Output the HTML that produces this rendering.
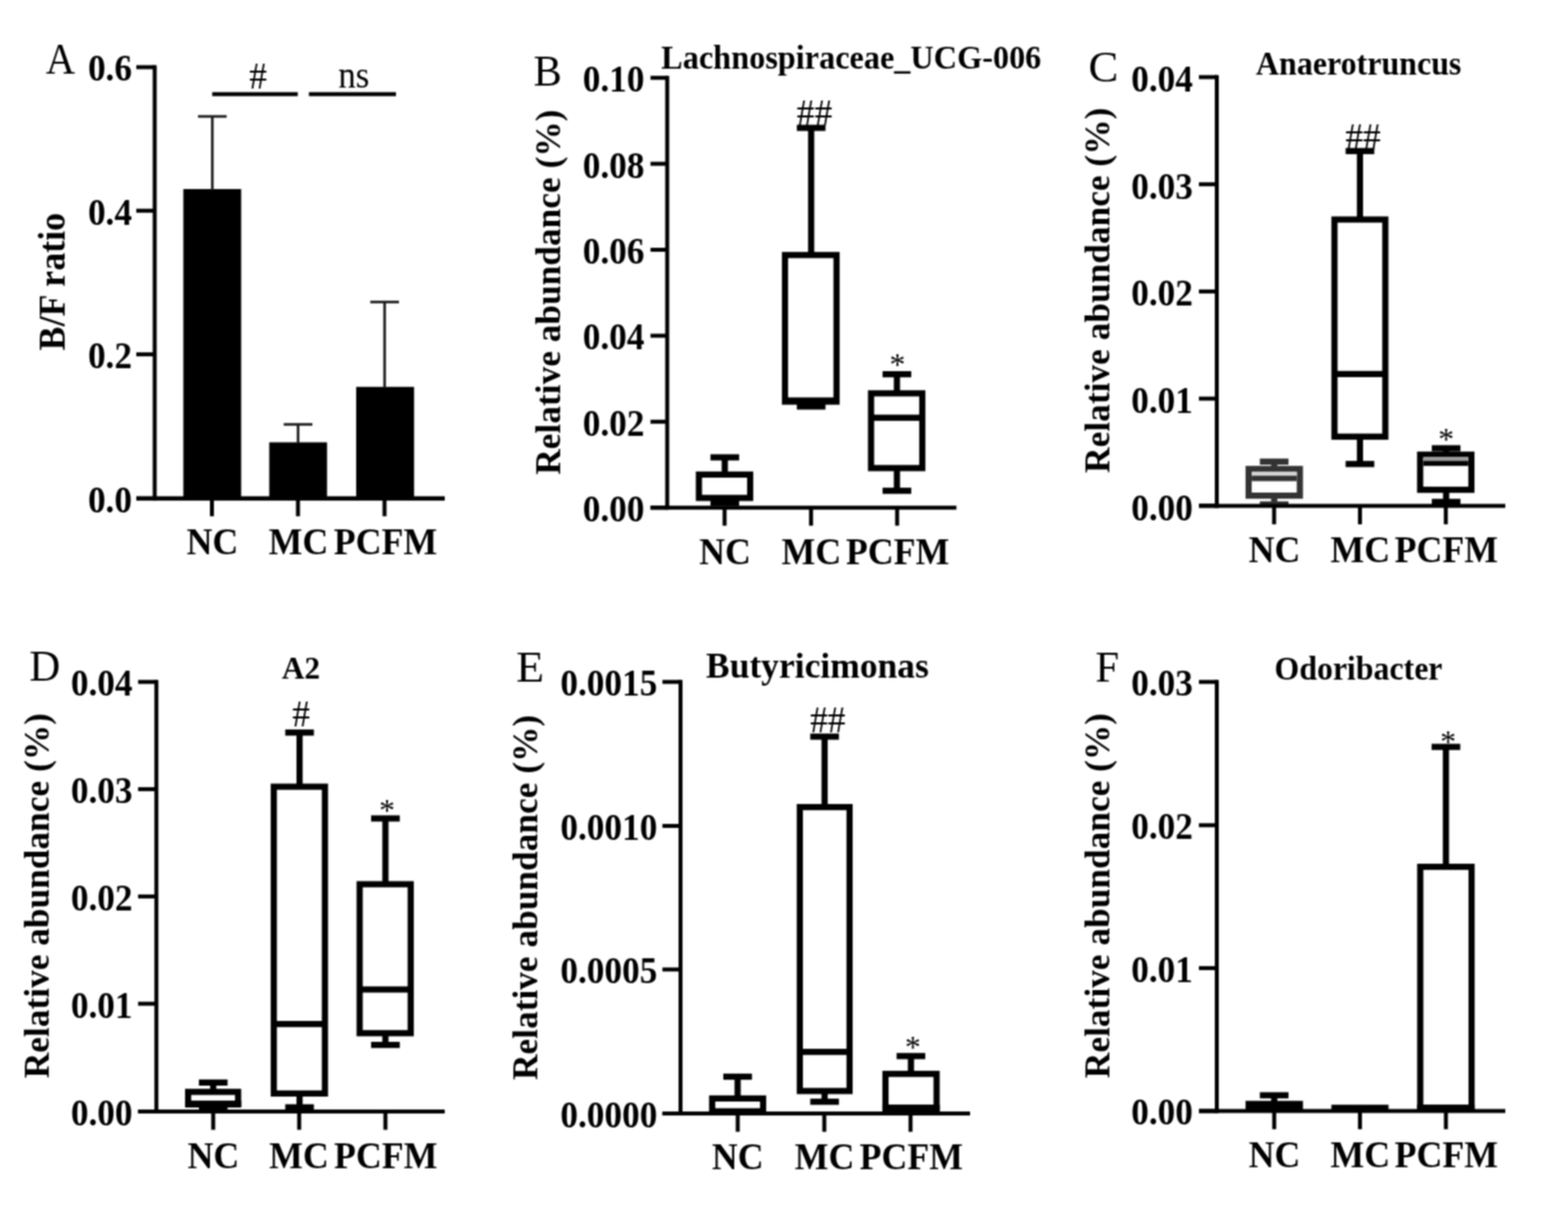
<!DOCTYPE html>
<html lang="en">
<head>
<meta charset="utf-8">
<title>Figure: B/F ratio and relative abundance of genera</title>
<style>
html,body{margin:0;padding:0;background:#fff;}
body{width:1576px;height:1218px;overflow:hidden;}
svg{display:block;}
svg text{font-family:"Liberation Serif","Times New Roman",Times,serif;font-weight:bold;fill:#000;}
svg text.r{font-weight:normal;}
</style>
</head>
<body>
<svg width="1576" height="1218" viewBox="0 0 1576 1218">
<defs>
<filter id="soft" filterUnits="userSpaceOnUse" x="0" y="0" width="1576" height="1218" color-interpolation-filters="sRGB">
<feConvolveMatrix order="3" kernelMatrix="1 2 1 2 4 2 1 2 1" divisor="16" edgeMode="duplicate" preserveAlpha="true"/>
</filter>
</defs>
<g filter="url(#soft)">
<rect x="0" y="0" width="1576" height="1218" fill="#fff"/>
<rect x="184.30" y="190.00" width="58.10" height="310.90" fill="#000"/>
<rect x="270.60" y="444.50" width="58.10" height="56.40" fill="#000"/>
<rect x="358.00" y="388.80" width="58.20" height="112.10" fill="#000"/>
<rect x="212.10" y="117.00" width="2.60" height="74.00" fill="#1c1c1c"/>
<rect x="199.00" y="115.70" width="28.80" height="2.60" fill="#1c1c1c"/>
<rect x="298.30" y="426.50" width="2.60" height="19.00" fill="#1c1c1c"/>
<rect x="285.20" y="425.20" width="28.80" height="2.60" fill="#1c1c1c"/>
<rect x="385.30" y="303.50" width="2.60" height="86.30" fill="#1c1c1c"/>
<rect x="372.20" y="302.20" width="28.80" height="2.60" fill="#1c1c1c"/>
<rect x="153.50" y="65.50" width="4.00" height="437.60" fill="#000"/>
<rect x="137.00" y="65.50" width="18.50" height="4.00" fill="#000"/>
<text transform="translate(132.70,81.40) scale(0.9610,1)" font-size="36.90" text-anchor="end">0.6</text>
<rect x="137.00" y="209.75" width="18.50" height="4.00" fill="#000"/>
<text transform="translate(132.70,225.65) scale(0.9610,1)" font-size="36.90" text-anchor="end">0.4</text>
<rect x="137.00" y="354.10" width="18.50" height="4.00" fill="#000"/>
<text transform="translate(132.70,370.00) scale(0.9610,1)" font-size="36.90" text-anchor="end">0.2</text>
<rect x="137.00" y="498.90" width="18.50" height="4.00" fill="#000"/>
<text transform="translate(132.70,514.80) scale(0.9610,1)" font-size="36.90" text-anchor="end">0.0</text>
<rect x="137.00" y="498.70" width="310.00" height="4.40" fill="#000"/>
<rect x="211.00" y="500.90" width="4.00" height="17.90" fill="#000"/>
<text transform="translate(213.60,557.10) scale(0.9756,1)" font-size="36.90" text-anchor="middle">NC</text>
<rect x="297.50" y="500.90" width="4.00" height="17.90" fill="#000"/>
<text transform="translate(300.00,557.10) scale(0.9756,1)" font-size="36.90" text-anchor="middle">MC</text>
<rect x="384.50" y="500.90" width="4.00" height="17.90" fill="#000"/>
<text transform="translate(387.50,557.10) scale(0.9756,1)" font-size="36.90" text-anchor="middle">PCFM</text>
<rect x="213.30" y="92.60" width="86.00" height="4.00" fill="#000"/>
<rect x="310.50" y="92.60" width="87.50" height="4.00" fill="#000"/>
<text transform="translate(250.54,88.70) scale(0.9350,1)" font-size="38.10" class="r">#</text>
<text transform="translate(339.95,88.11) scale(0.9294,1)" font-size="38.00" class="r">ns</text>
<text transform="translate(46.10,74.00) scale(0.9412,1)" font-size="43.31" class="r">A</text>
<text transform="translate(64.50,283.00) rotate(-90) scale(0.9756,1)" font-size="37.10" text-anchor="middle">B/F ratio</text>
<rect x="725.40" y="459.60" width="6.20" height="17.30" fill="#000"/>
<rect x="714.10" y="456.50" width="28.80" height="6.20" fill="#000"/>
<rect x="725.40" y="500.40" width="6.20" height="5.10" fill="#000"/>
<rect x="714.10" y="502.40" width="28.80" height="6.20" fill="#000"/>
<rect x="699.40" y="473.80" width="57.70" height="29.70" fill="#000"/>
<rect x="705.60" y="480.00" width="45.30" height="17.30" fill="#fff"/>
<rect x="812.20" y="128.50" width="6.20" height="127.80" fill="#000"/>
<rect x="800.90" y="125.40" width="28.80" height="6.20" fill="#000"/>
<rect x="812.20" y="403.60" width="6.20" height="4.90" fill="#000"/>
<rect x="800.90" y="405.40" width="28.80" height="6.20" fill="#000"/>
<rect x="785.90" y="253.20" width="58.00" height="153.50" fill="#000"/>
<rect x="792.10" y="259.40" width="45.60" height="141.10" fill="#fff"/>
<rect x="789.00" y="399.40" width="51.80" height="6.20" fill="#000"/>
<rect x="898.40" y="376.10" width="6.20" height="19.20" fill="#000"/>
<rect x="887.10" y="373.00" width="28.80" height="6.20" fill="#000"/>
<rect x="898.40" y="470.40" width="6.20" height="22.80" fill="#000"/>
<rect x="887.10" y="490.10" width="28.80" height="6.20" fill="#000"/>
<rect x="872.40" y="392.20" width="57.70" height="81.30" fill="#000"/>
<rect x="878.60" y="398.40" width="45.30" height="68.90" fill="#fff"/>
<rect x="875.50" y="416.70" width="51.50" height="6.20" fill="#000"/>
<rect x="668.60" y="76.20" width="4.00" height="436.00" fill="#000"/>
<rect x="653.80" y="76.20" width="16.80" height="4.00" fill="#000"/>
<text transform="translate(647.70,92.10) scale(0.9610,1)" font-size="36.90" text-anchor="end">0.10</text>
<rect x="653.80" y="162.60" width="16.80" height="4.00" fill="#000"/>
<text transform="translate(647.70,178.50) scale(0.9610,1)" font-size="36.90" text-anchor="end">0.08</text>
<rect x="653.80" y="249.00" width="16.80" height="4.00" fill="#000"/>
<text transform="translate(647.70,264.90) scale(0.9610,1)" font-size="36.90" text-anchor="end">0.06</text>
<rect x="653.80" y="335.40" width="16.80" height="4.00" fill="#000"/>
<text transform="translate(647.70,351.30) scale(0.9610,1)" font-size="36.90" text-anchor="end">0.04</text>
<rect x="653.80" y="421.80" width="16.80" height="4.00" fill="#000"/>
<text transform="translate(647.70,437.70) scale(0.9610,1)" font-size="36.90" text-anchor="end">0.02</text>
<rect x="653.80" y="508.20" width="16.80" height="4.00" fill="#000"/>
<text transform="translate(647.70,524.10) scale(0.9610,1)" font-size="36.90" text-anchor="end">0.00</text>
<rect x="653.80" y="508.20" width="307.50" height="4.00" fill="#000"/>
<rect x="726.30" y="510.20" width="4.00" height="18.10" fill="#000"/>
<text transform="translate(728.80,566.80) scale(0.9756,1)" font-size="36.90" text-anchor="middle">NC</text>
<rect x="813.20" y="510.20" width="4.00" height="18.10" fill="#000"/>
<text transform="translate(815.40,566.80) scale(0.9756,1)" font-size="36.90" text-anchor="middle">MC</text>
<rect x="899.70" y="510.20" width="4.00" height="18.10" fill="#000"/>
<text transform="translate(902.30,566.80) scale(0.9756,1)" font-size="36.90" text-anchor="middle">PCFM</text>
<text transform="translate(800.84,125.90) scale(0.9350,1)" font-size="38.10" class="r">##</text>
<text x="893.90" y="377.10" font-size="32.00" class="r">*</text>
<text transform="translate(536.23,86.32) scale(0.9784,1)" font-size="43.61" class="r">B</text>
<text transform="translate(664.60,69.30) scale(0.9756,1)" font-size="33.26">Lachnospiraceae_UCG-006</text>
<text transform="translate(562.50,293.60) rotate(-90) scale(0.9756,1)" font-size="36.41" text-anchor="middle">Relative abundance (%)</text>
<rect x="1277.60" y="463.90" width="6.20" height="7.40" fill="#333"/>
<rect x="1266.30" y="460.80" width="28.80" height="6.20" fill="#333"/>
<rect x="1277.60" y="498.10" width="6.20" height="8.80" fill="#333"/>
<rect x="1266.30" y="503.80" width="28.80" height="6.20" fill="#333"/>
<rect x="1251.90" y="468.20" width="57.70" height="33.00" fill="#333"/>
<rect x="1258.10" y="474.40" width="45.30" height="20.60" fill="#fff"/>
<rect x="1258.10" y="473.90" width="45.30" height="4.20" fill="#d2d2d2"/>
<rect x="1258.10" y="478.10" width="45.30" height="5.40" fill="#333"/>
<rect x="1363.80" y="151.80" width="6.20" height="68.80" fill="#000"/>
<rect x="1352.50" y="148.70" width="28.80" height="6.20" fill="#000"/>
<rect x="1363.80" y="438.80" width="6.20" height="27.50" fill="#000"/>
<rect x="1352.50" y="463.20" width="28.80" height="6.20" fill="#000"/>
<rect x="1338.20" y="217.50" width="57.30" height="224.40" fill="#000"/>
<rect x="1344.40" y="223.70" width="44.90" height="212.00" fill="#fff"/>
<rect x="1341.30" y="372.80" width="51.10" height="6.20" fill="#000"/>
<rect x="1450.40" y="450.50" width="6.20" height="6.40" fill="#000"/>
<rect x="1439.10" y="447.40" width="28.80" height="6.20" fill="#000"/>
<rect x="1450.40" y="492.20" width="6.20" height="12.20" fill="#000"/>
<rect x="1439.10" y="501.30" width="28.80" height="6.20" fill="#000"/>
<rect x="1424.30" y="453.80" width="57.70" height="41.50" fill="#000"/>
<rect x="1430.50" y="460.00" width="45.30" height="29.10" fill="#fff"/>
<rect x="1430.50" y="459.00" width="45.30" height="4.20" fill="#999"/>
<rect x="1430.50" y="463.20" width="45.30" height="5.00" fill="#000"/>
<rect x="1221.00" y="75.50" width="4.00" height="434.90" fill="#000"/>
<rect x="1205.00" y="75.50" width="18.00" height="4.00" fill="#000"/>
<text transform="translate(1199.00,92.00) scale(0.9610,1)" font-size="36.90" text-anchor="end">0.04</text>
<rect x="1205.00" y="183.20" width="18.00" height="4.00" fill="#000"/>
<text transform="translate(1199.00,199.70) scale(0.9610,1)" font-size="36.90" text-anchor="end">0.03</text>
<rect x="1205.00" y="290.90" width="18.00" height="4.00" fill="#000"/>
<text transform="translate(1199.00,307.40) scale(0.9610,1)" font-size="36.90" text-anchor="end">0.02</text>
<rect x="1205.00" y="398.60" width="18.00" height="4.00" fill="#000"/>
<text transform="translate(1199.00,415.10) scale(0.9610,1)" font-size="36.90" text-anchor="end">0.01</text>
<rect x="1205.00" y="506.20" width="18.00" height="4.00" fill="#000"/>
<text transform="translate(1199.00,522.70) scale(0.9610,1)" font-size="36.90" text-anchor="end">0.00</text>
<rect x="1205.00" y="506.40" width="308.00" height="4.00" fill="#000"/>
<rect x="1278.60" y="508.40" width="4.00" height="18.50" fill="#000"/>
<text transform="translate(1281.00,565.30) scale(0.9756,1)" font-size="36.90" text-anchor="middle">NC</text>
<rect x="1364.90" y="508.40" width="4.00" height="18.50" fill="#000"/>
<text transform="translate(1367.20,565.30) scale(0.9756,1)" font-size="36.90" text-anchor="middle">MC</text>
<rect x="1451.20" y="508.40" width="4.00" height="18.50" fill="#000"/>
<text transform="translate(1453.80,565.30) scale(0.9756,1)" font-size="36.90" text-anchor="middle">PCFM</text>
<text transform="translate(1352.24,149.80) scale(0.9350,1)" font-size="38.10" class="r">##</text>
<text x="1445.60" y="451.70" font-size="32.00" class="r">*</text>
<text transform="translate(1093.89,82.30) scale(1.0043,1)" font-size="44.95" class="r">C</text>
<text transform="translate(1262.30,75.30) scale(0.9756,1)" font-size="32.95">Anaerotruncus</text>
<text transform="translate(1115.20,291.70) rotate(-90) scale(0.9756,1)" font-size="36.41" text-anchor="middle">Relative abundance (%)</text>
<rect x="211.20" y="1087.90" width="6.20" height="9.40" fill="#000"/>
<rect x="199.90" y="1084.80" width="28.80" height="6.20" fill="#000"/>
<rect x="211.20" y="1109.30" width="6.20" height="5.20" fill="#000"/>
<rect x="199.90" y="1111.40" width="28.80" height="6.20" fill="#000"/>
<rect x="186.00" y="1094.20" width="56.40" height="18.20" fill="#000"/>
<rect x="192.20" y="1100.40" width="44.00" height="5.80" fill="#fff"/>
<rect x="186.00" y="1106.20" width="56.40" height="6.80" fill="#000"/>
<rect x="298.00" y="736.20" width="6.20" height="54.40" fill="#000"/>
<rect x="286.70" y="733.10" width="28.80" height="6.20" fill="#000"/>
<rect x="298.00" y="1098.90" width="6.20" height="13.90" fill="#000"/>
<rect x="286.70" y="1109.70" width="28.80" height="6.20" fill="#000"/>
<rect x="272.10" y="787.50" width="57.60" height="314.50" fill="#000"/>
<rect x="278.30" y="793.70" width="45.20" height="302.10" fill="#fff"/>
<rect x="275.20" y="1026.00" width="51.40" height="6.20" fill="#000"/>
<rect x="384.30" y="822.50" width="6.20" height="66.10" fill="#000"/>
<rect x="373.00" y="819.40" width="28.80" height="6.20" fill="#000"/>
<rect x="384.30" y="1038.30" width="6.20" height="11.80" fill="#000"/>
<rect x="373.00" y="1047.00" width="28.80" height="6.20" fill="#000"/>
<rect x="358.40" y="885.50" width="57.50" height="155.90" fill="#000"/>
<rect x="364.60" y="891.70" width="45.10" height="143.50" fill="#fff"/>
<rect x="361.50" y="991.30" width="51.30" height="6.20" fill="#000"/>
<rect x="155.20" y="683.30" width="4.00" height="435.70" fill="#000"/>
<rect x="138.80" y="683.30" width="18.40" height="4.00" fill="#000"/>
<text transform="translate(133.20,699.20) scale(0.9610,1)" font-size="36.90" text-anchor="end">0.04</text>
<rect x="138.80" y="791.10" width="18.40" height="4.00" fill="#000"/>
<text transform="translate(133.20,807.00) scale(0.9610,1)" font-size="36.90" text-anchor="end">0.03</text>
<rect x="138.80" y="898.90" width="18.40" height="4.00" fill="#000"/>
<text transform="translate(133.20,914.80) scale(0.9610,1)" font-size="36.90" text-anchor="end">0.02</text>
<rect x="138.80" y="1006.70" width="18.40" height="4.00" fill="#000"/>
<text transform="translate(133.20,1022.60) scale(0.9610,1)" font-size="36.90" text-anchor="end">0.01</text>
<rect x="138.80" y="1115.00" width="18.40" height="4.00" fill="#000"/>
<text transform="translate(133.20,1130.90) scale(0.9610,1)" font-size="36.90" text-anchor="end">0.00</text>
<rect x="138.80" y="1115.00" width="308.20" height="4.00" fill="#000"/>
<rect x="212.30" y="1117.00" width="4.00" height="18.40" fill="#000"/>
<text transform="translate(214.40,1173.60) scale(0.9756,1)" font-size="36.90" text-anchor="middle">NC</text>
<rect x="298.70" y="1117.00" width="4.00" height="18.40" fill="#000"/>
<text transform="translate(300.60,1173.60) scale(0.9756,1)" font-size="36.90" text-anchor="middle">MC</text>
<rect x="385.40" y="1117.00" width="4.00" height="18.40" fill="#000"/>
<text transform="translate(387.80,1173.60) scale(0.9756,1)" font-size="36.90" text-anchor="middle">PCFM</text>
<text transform="translate(293.64,729.80) scale(0.9350,1)" font-size="38.10" class="r">#</text>
<text x="380.90" y="825.30" font-size="32.00" class="r">*</text>
<text transform="translate(29.53,684.31) scale(0.9731,1)" font-size="44.20" class="r">D</text>
<text transform="translate(283.30,682.00) scale(0.9756,1)" font-size="32.29">A2</text>
<text transform="translate(49.00,900.10) rotate(-90) scale(0.9756,1)" font-size="36.41" text-anchor="middle">Relative abundance (%)</text>
<rect x="738.30" y="1082.00" width="6.20" height="21.90" fill="#000"/>
<rect x="727.00" y="1078.90" width="28.80" height="6.20" fill="#000"/>
<rect x="738.30" y="1116.80" width="6.20" height="0.20" fill="#000"/>
<rect x="727.00" y="1113.90" width="28.80" height="6.20" fill="#000"/>
<rect x="712.70" y="1100.80" width="57.40" height="19.10" fill="#000"/>
<rect x="718.90" y="1107.00" width="45.00" height="6.70" fill="#fff"/>
<rect x="825.70" y="740.30" width="6.20" height="70.80" fill="#000"/>
<rect x="814.40" y="737.20" width="28.80" height="6.20" fill="#000"/>
<rect x="825.70" y="1096.40" width="6.20" height="10.80" fill="#000"/>
<rect x="814.40" y="1104.10" width="28.80" height="6.20" fill="#000"/>
<rect x="800.80" y="808.00" width="56.20" height="291.50" fill="#000"/>
<rect x="807.00" y="814.20" width="43.80" height="279.10" fill="#fff"/>
<rect x="803.90" y="1054.00" width="50.00" height="6.20" fill="#000"/>
<rect x="912.50" y="1061.30" width="6.20" height="17.90" fill="#000"/>
<rect x="901.20" y="1058.20" width="28.80" height="6.20" fill="#000"/>
<rect x="912.50" y="1113.30" width="6.20" height="3.20" fill="#000"/>
<rect x="901.20" y="1113.40" width="28.80" height="6.20" fill="#000"/>
<rect x="886.90" y="1076.10" width="57.60" height="40.30" fill="#000"/>
<rect x="893.10" y="1082.30" width="45.20" height="27.90" fill="#fff"/>
<rect x="886.90" y="1110.20" width="57.60" height="6.80" fill="#000"/>
<rect x="682.00" y="683.30" width="4.00" height="437.70" fill="#000"/>
<rect x="665.80" y="683.30" width="18.20" height="4.00" fill="#000"/>
<text transform="translate(660.70,699.20) scale(0.9610,1)" font-size="36.90" text-anchor="end">0.0015</text>
<rect x="665.80" y="828.00" width="18.20" height="4.00" fill="#000"/>
<text transform="translate(660.70,843.90) scale(0.9610,1)" font-size="36.90" text-anchor="end">0.0010</text>
<rect x="665.80" y="972.30" width="18.20" height="4.00" fill="#000"/>
<text transform="translate(660.70,988.20) scale(0.9610,1)" font-size="36.90" text-anchor="end">0.0005</text>
<rect x="665.80" y="1117.00" width="18.20" height="4.00" fill="#000"/>
<text transform="translate(660.70,1132.90) scale(0.9610,1)" font-size="36.90" text-anchor="end">0.0000</text>
<rect x="665.80" y="1117.00" width="309.20" height="4.00" fill="#000"/>
<rect x="739.50" y="1119.00" width="4.00" height="18.40" fill="#000"/>
<text transform="translate(741.60,1175.30) scale(0.9756,1)" font-size="36.90" text-anchor="middle">NC</text>
<rect x="826.50" y="1119.00" width="4.00" height="18.40" fill="#000"/>
<text transform="translate(828.80,1175.30) scale(0.9756,1)" font-size="36.90" text-anchor="middle">MC</text>
<rect x="913.20" y="1119.00" width="4.00" height="18.40" fill="#000"/>
<text transform="translate(915.90,1175.30) scale(0.9756,1)" font-size="36.90" text-anchor="middle">PCFM</text>
<text transform="translate(814.24,735.90) scale(0.9350,1)" font-size="38.10" class="r">##</text>
<text x="909.50" y="1063.30" font-size="32.00" class="r">*</text>
<text transform="translate(518.68,685.00) scale(1.0182,1)" font-size="45.26" class="r">E</text>
<text transform="translate(709.60,680.60) scale(0.9756,1)" font-size="36.59">Butyricimonas</text>
<text transform="translate(540.20,901.90) rotate(-90) scale(0.9756,1)" font-size="36.41" text-anchor="middle">Relative abundance (%)</text>
<rect x="1251.90" y="1106.30" width="57.70" height="10.20" fill="#000"/>
<rect x="1277.60" y="1100.70" width="6.20" height="6.30" fill="#000"/>
<rect x="1266.30" y="1097.60" width="28.80" height="6.20" fill="#000"/>
<rect x="1338.20" y="1110.20" width="57.40" height="6.30" fill="#000"/>
<rect x="1450.20" y="750.60" width="6.20" height="120.50" fill="#000"/>
<rect x="1438.90" y="747.50" width="28.80" height="6.20" fill="#000"/>
<rect x="1424.40" y="868.00" width="57.80" height="248.40" fill="#000"/>
<rect x="1430.60" y="874.20" width="45.40" height="236.00" fill="#fff"/>
<rect x="1424.40" y="1110.20" width="57.80" height="5.80" fill="#000"/>
<rect x="1221.00" y="683.30" width="4.00" height="435.20" fill="#000"/>
<rect x="1205.00" y="683.30" width="18.00" height="4.00" fill="#000"/>
<text transform="translate(1199.00,699.20) scale(0.9610,1)" font-size="36.90" text-anchor="end">0.03</text>
<rect x="1205.00" y="827.30" width="18.00" height="4.00" fill="#000"/>
<text transform="translate(1199.00,843.20) scale(0.9610,1)" font-size="36.90" text-anchor="end">0.02</text>
<rect x="1205.00" y="970.90" width="18.00" height="4.00" fill="#000"/>
<text transform="translate(1199.00,986.80) scale(0.9610,1)" font-size="36.90" text-anchor="end">0.01</text>
<rect x="1205.00" y="1114.50" width="18.00" height="4.00" fill="#000"/>
<text transform="translate(1199.00,1130.40) scale(0.9610,1)" font-size="36.90" text-anchor="end">0.00</text>
<rect x="1205.00" y="1114.50" width="308.00" height="4.00" fill="#000"/>
<rect x="1278.70" y="1116.50" width="4.00" height="18.30" fill="#000"/>
<text transform="translate(1281.00,1172.60) scale(0.9756,1)" font-size="36.90" text-anchor="middle">NC</text>
<rect x="1364.90" y="1116.50" width="4.00" height="18.30" fill="#000"/>
<text transform="translate(1367.20,1172.60) scale(0.9756,1)" font-size="36.90" text-anchor="middle">MC</text>
<rect x="1451.30" y="1116.50" width="4.00" height="18.30" fill="#000"/>
<text transform="translate(1453.80,1172.60) scale(0.9756,1)" font-size="36.90" text-anchor="middle">PCFM</text>
<text x="1447.60" y="756.00" font-size="32.00" class="r">*</text>
<text transform="translate(1100.93,685.00) scale(0.9470,1)" font-size="45.26" class="r">F</text>
<text transform="translate(1281.00,683.00) scale(0.9756,1)" font-size="32.80">Odoribacter</text>
<text transform="translate(1115.20,900.00) rotate(-90) scale(0.9756,1)" font-size="36.41" text-anchor="middle">Relative abundance (%)</text>
</g>
</svg>
</body>
</html>
